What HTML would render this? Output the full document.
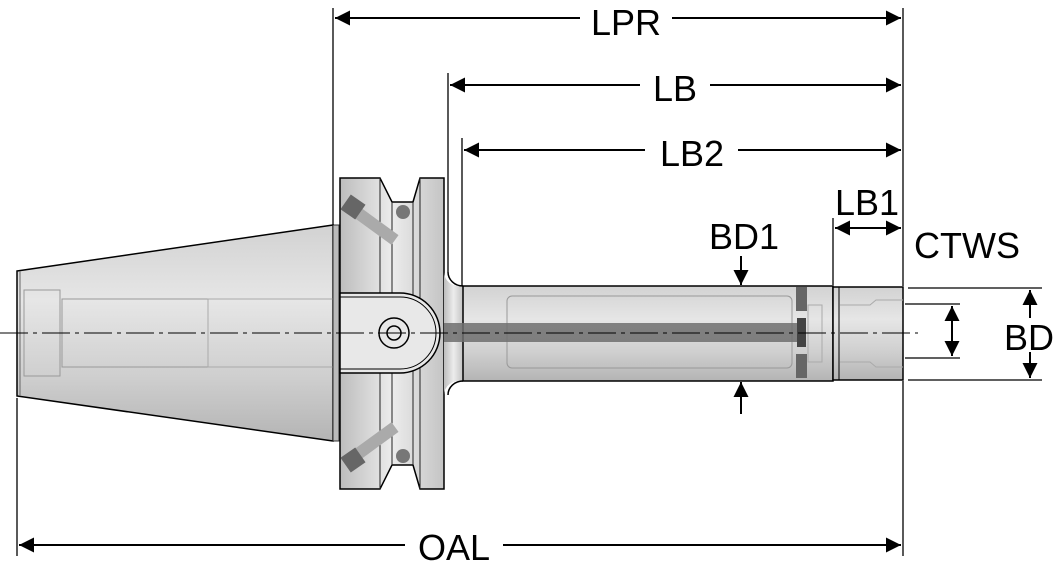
<!DOCTYPE html>
<html><head><meta charset="utf-8"><style>
html,body{margin:0;padding:0;background:#fff;}
svg{display:block;}
text{font-family:"Liberation Sans",sans-serif;font-size:36px;fill:#000;}
</style></head><body>
<svg width="1058" height="570" viewBox="0 0 1058 570" xmlns="http://www.w3.org/2000/svg">
<defs>
<linearGradient id="g" x1="0" y1="0" x2="0" y2="1">
<stop offset="0" stop-color="#d2d2d2"/><stop offset="0.35" stop-color="#e6e6e6"/><stop offset="0.7" stop-color="#cfcfcf"/><stop offset="1" stop-color="#b4b4b4"/></linearGradient>
<linearGradient id="gv" x1="0" y1="0" x2="1" y2="0">
<stop offset="0" stop-color="#bdbdbd"/><stop offset="0.5" stop-color="#ececec"/><stop offset="1" stop-color="#c4c4c4"/></linearGradient>
<marker id="a" viewBox="0 0 10 10" refX="10" refY="5" markerWidth="18" markerHeight="15" markerUnits="userSpaceOnUse" orient="auto-start-reverse"><path d="M0,0 L10,5 L0,10 z" fill="#000"/></marker>
</defs>
<!-- taper -->
<polygon points="17,271 333,225 333,441 17,396" fill="url(#g)" stroke="#000" stroke-width="1.5"/>
<line x1="20" y1="271" x2="20" y2="396" stroke="#666"/>
<rect x="24" y="290" width="36" height="86" fill="none" stroke="#999"/>
<rect x="62" y="299" width="146" height="68" fill="none" stroke="#999"/>
<rect x="208" y="299" width="125" height="68" fill="none" stroke="#aaa"/>
<rect x="333" y="225" width="6" height="216" fill="#bbb" stroke="#333"/>
<!-- flange -->
<path d="M340,178 L380,178 L392,202 L413,202 L420,178 L444,178 L444,489 L420,489 L413,465 L392,465 L380,489 L340,489 Z" fill="url(#gv)" stroke="#000" stroke-width="1.5"/>
<line x1="380" y1="178" x2="380" y2="489" stroke="#222"/>
<line x1="392" y1="202" x2="392" y2="465" stroke="#222"/>
<line x1="413" y1="202" x2="413" y2="465" stroke="#222"/>
<line x1="420" y1="178" x2="420" y2="489" stroke="#222"/>
<line x1="347" y1="205" x2="395" y2="240" stroke="#aaa" stroke-width="12"/>
<rect x="344" y="198" width="18" height="18" fill="#666" transform="rotate(35 353 207)"/>
<line x1="347" y1="462" x2="395" y2="427" stroke="#aaa" stroke-width="12"/>
<rect x="344" y="451" width="18" height="18" fill="#666" transform="rotate(-35 353 460)"/>
<circle cx="403" cy="212" r="7" fill="#777"/><circle cx="403" cy="456" r="7" fill="#777"/>
<!-- key slot -->
<path d="M340,293 L400,293 A40,40 0 0 1 400,373 L340,373 Z" fill="#e8e8e8" stroke="#000" stroke-width="1.5"/>
<path d="M340,297 L400,297 A36,36 0 0 1 400,369 L340,369" fill="none" stroke="#000"/>
<circle cx="394" cy="333" r="15" fill="none" stroke="#000" stroke-width="1.5"/>
<circle cx="394" cy="333" r="7" fill="none" stroke="#000" stroke-width="1.5"/>
<!-- shank -->
<path d="M444,272 A16,14 0 0 0 463,286 L463,381 A16,14 0 0 0 444,395 Z" fill="url(#gv)" stroke="none"/>
<path d="M448,272 A15,14 0 0 0 463,286 M448,395 A15,14 0 0 1 463,381" fill="none" stroke="#000" stroke-width="1.5"/>
<rect x="463" y="286" width="370" height="95" fill="url(#g)" stroke="#000" stroke-width="1.5"/>
<rect x="507" y="296" width="285" height="72" rx="5" fill="none" stroke="#999"/>
<rect x="444" y="323" width="362" height="19" fill="#6e6e6e" opacity="0.85"/>
<rect x="796" y="287" width="11" height="24" fill="#666"/>
<rect x="796" y="354" width="11" height="24" fill="#666"/>
<rect x="797" y="318" width="9" height="29" fill="#444"/>
<rect x="808" y="305" width="14" height="57" fill="none" stroke="#aaa"/>
<!-- nose -->
<rect x="833" y="287" width="70" height="93" fill="url(#g)" stroke="#000" stroke-width="1.5"/>
<line x1="839" y1="287" x2="839" y2="380" stroke="#000"/>
<path d="M840,305 L870,305 L876,300 L903,300 M840,362 L870,362 L876,367 L903,367" fill="none" stroke="#aaa"/>
<!-- centerline -->
<line x1="0" y1="333" x2="918" y2="333" stroke="#000" stroke-width="1" stroke-dasharray="28,5,4,5"/>
<!-- extension lines -->
<g stroke="#000" stroke-width="1.3">
<line x1="333" y1="8" x2="333" y2="225"/>
<line x1="448" y1="73" x2="448" y2="272"/>
<line x1="462" y1="138" x2="462" y2="286"/>
<line x1="903" y1="8" x2="903" y2="286"/>
<line x1="903" y1="381" x2="903" y2="556"/>
<line x1="17" y1="398" x2="17" y2="556"/>
<line x1="833" y1="218" x2="833" y2="285"/>
<line x1="908" y1="288" x2="1042" y2="288"/>
<line x1="908" y1="380" x2="1042" y2="380"/>
<line x1="905" y1="304" x2="960" y2="304"/>
<line x1="905" y1="358" x2="960" y2="358"/>
</g>
<!-- dimension lines -->
<g stroke="#000" stroke-width="2" fill="none">
<line x1="335" y1="18" x2="580" y2="18" marker-start="url(#a)"/>
<line x1="672" y1="18" x2="901" y2="18" marker-end="url(#a)"/>
<line x1="450" y1="85" x2="640" y2="85" marker-start="url(#a)"/>
<line x1="710" y1="85" x2="901" y2="85" marker-end="url(#a)"/>
<line x1="464" y1="150" x2="645" y2="150" marker-start="url(#a)"/>
<line x1="738" y1="150" x2="901" y2="150" marker-end="url(#a)"/>
<line x1="19" y1="545" x2="405" y2="545" marker-start="url(#a)"/>
<line x1="503" y1="545" x2="901" y2="545" marker-end="url(#a)"/>
<line x1="835" y1="228" x2="901" y2="228" marker-start="url(#a)" marker-end="url(#a)"/>
<line x1="741" y1="256" x2="741" y2="285" marker-end="url(#a)"/>
<line x1="741" y1="414" x2="741" y2="382" marker-end="url(#a)"/>
<line x1="952" y1="306" x2="952" y2="356" marker-start="url(#a)" marker-end="url(#a)"/>
<line x1="1030" y1="318" x2="1030" y2="290" marker-end="url(#a)"/>
<line x1="1030" y1="352" x2="1030" y2="378" marker-end="url(#a)"/>
</g>
<text x="626" y="35" text-anchor="middle">LPR</text>
<text x="675" y="101" text-anchor="middle">LB</text>
<text x="692" y="166" text-anchor="middle">LB2</text>
<text x="454" y="560" text-anchor="middle">OAL</text>
<text x="744" y="249" text-anchor="middle">BD1</text>
<text x="867" y="215" text-anchor="middle">LB1</text>
<text x="967" y="258" text-anchor="middle">CTWS</text>
<text x="1029" y="350" text-anchor="middle">BD</text>
</svg>
</body></html>
